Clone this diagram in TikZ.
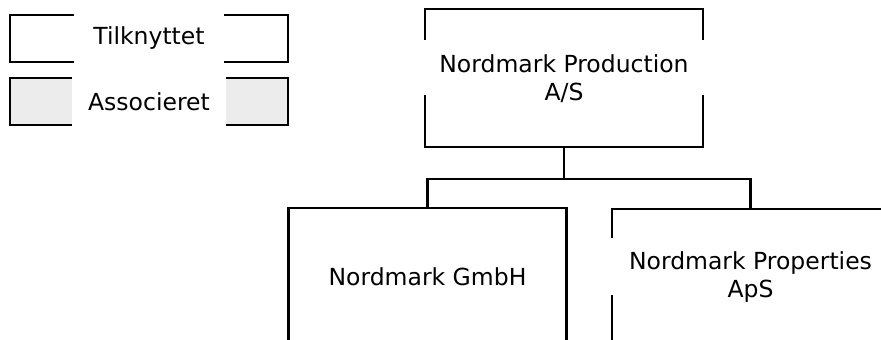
\documentclass[tikz,border=0pt]{standalone}
\usepackage{fontspec}
\setmainfont{DejaVu Sans}
\begin{document}
\begin{tikzpicture}[x=1pt,y=-1pt,line width=2.2pt,
  orgbox/.style={draw=black,rectangle,inner sep=0pt,minimum width=278pt,minimum height=138pt},
  legbox/.style={draw=black,rectangle,inner sep=0pt,minimum width=278pt,minimum height=47pt},
  legtext/.style={fill=white,inner sep=0pt,minimum height=54pt,font=\fontsize{23.5}{28}\selectfont},
  orgtext/.style={inner sep=0pt,align=center,font=\fontsize{23.5}{28}\selectfont},
  mask/.style={fill=white,draw=none},
  link/.style={draw=black,line width=2.2pt}]
\useasboundingbox (0,0) rectangle (881,340);
\clip (0,0) rectangle (881,340);
% legend
\node[legbox] (leg1) at (149,38.5) {};
\node[legbox,fill=gray!15] (leg2) at (149,101.5) {};
\node[legtext,minimum width=150pt] (leg1t) at (leg1.center) {Tilknyttet};
\node[legtext,minimum width=154pt] (leg2t) at (leg2.center) {Associeret};
% org boxes
\node[orgbox] (top) at (564,78) {};
\node[orgbox] (gmbh) at (427.5,277) {};
\node[orgbox,minimum width=277pt] (props) at (750.5,278) {};
% masks over borders behind labels
\fill[white] (421,40) rectangle (707,95);
\fill[white] (608,238) rectangle (892,295);
% labels
\node[orgtext] (topt) at (564,79) {Nordmark Production\\A/S};
\node[orgtext] (gmbht) at (427.5,277) {Nordmark GmbH};
\node[orgtext] (propst) at (750.5,277) {Nordmark Properties\\ApS};
% connectors
\coordinate (bus) at (564,179);
\draw[link] (top.south) -- (bus);
\draw[link] (gmbh.north) |- (bus) -| (props.north);
\end{tikzpicture}
\end{document}
